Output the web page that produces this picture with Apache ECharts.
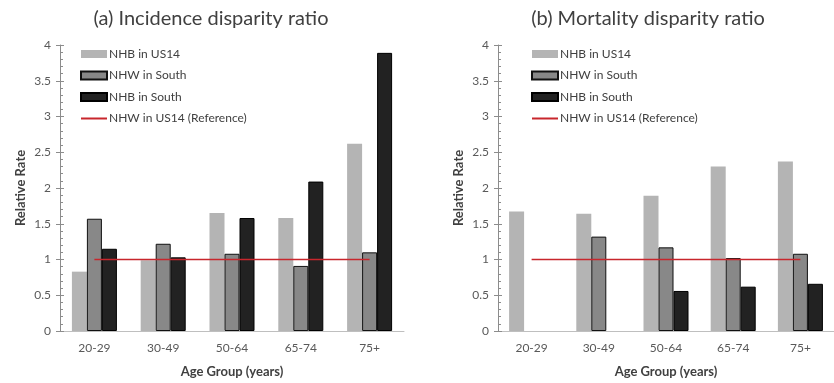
<!DOCTYPE html>
<html>
<head>
<meta charset="utf-8">
<script src="https://cdn.jsdelivr.net/npm/echarts@6/dist/echarts.min.js"></script>
<style>
  html, body { margin: 0; padding: 0; background: #fff; }
  #chart { width: 834px; height: 383px; }
</style>
</head>
<body>
<div id="chart"></div>
<script>
// Age groups shared by both panels
const ageGroups = ['20-29', '30-49', '50-64', '65-74', '75+'];
const yTicks = [0, 0.5, 1, 1.5, 2, 2.5, 3, 3.5, 4];

// (a) Incidence disparity ratio
const incNHBUS14 = [0.83, 0.99, 1.65, 1.58, 2.62];
const incNHWSouth = [1.57, 1.22, 1.08, 0.91, 1.10];
const incNHBSouth = [1.15, 1.03, 1.58, 2.09, 3.89];

// (b) Mortality disparity ratio
const morNHBUS14 = [1.67, 1.64, 1.89, 2.30, 2.37];
const morNHWSouth = [null, 1.32, 1.17, 1.02, 1.08];
const morNHBSouth = [null, null, 0.56, 0.62, 0.66];

// Reference level (NHW in US14)
const reference = [1, 1, 1, 1, 1];

const seriesNames = ['NHB in US14', 'NHW in South', 'NHB in South', 'NHW in US14 (Reference)'];

const FONT = 'Lato';
const textDark = '#404040';
const textAxis = '#595959';
const axisGray = '#8c8c8c';

const grids = [
  { left: 60, right: 430, top: 45, bottom: 50 },
  { left: 498, right: -6, top: 45, bottom: 50 }
];

function xAxisFor(i) {
  return {
    type: 'category', gridIndex: i, data: ageGroups,
    axisLine: { lineStyle: { color: '#bfbfbf', width: 1 } },
    axisTick: { show: false },
    axisLabel: { color: textAxis, fontFamily: FONT, fontSize: 12, margin: 11 },
    name: 'Age Group (years)', nameLocation: 'middle', nameGap: 34,
    nameTextStyle: { color: textDark, fontFamily: FONT, fontSize: 13, fontWeight: 'bold' }
  };
}

function yAxesFor(i) {
  return [
    {
      type: 'value', gridIndex: i, min: 0, max: 4, interval: 0.5,
      axisLine: { show: true, lineStyle: { color: axisGray } },
      axisTick: { show: true, inside: true, length: 4, lineStyle: { color: axisGray } },
      minorTick: { show: true, splitNumber: 5, length: 3, lineStyle: { color: axisGray } },
      splitLine: { show: false },
      axisLabel: { color: textAxis, fontFamily: FONT, fontSize: 12, margin: 9,
        formatter: v => (yTicks.indexOf(v) >= 0 ? String(v) : '') },
      name: 'Relative Rate', nameLocation: 'middle', nameGap: 33,
      nameTextStyle: { color: textDark, fontFamily: FONT, fontSize: 13, fontWeight: 'bold' }
    },
    {
      // outer half of the crossing major ticks
      type: 'value', gridIndex: i, min: 0, max: 4, interval: 0.5, position: 'left',
      axisLine: { show: false },
      axisTick: { show: true, inside: false, length: 4, lineStyle: { color: axisGray } },
      splitLine: { show: false },
      axisLabel: { show: false }
    }
  ];
}

function barSeries(name, data, i, style) {
  return {
    name, type: 'bar', data, xAxisIndex: i, yAxisIndex: i * 2,
    barWidth: 15, barGap: '0%', itemStyle: style, emphasis: { disabled: true }
  };
}

function panelSeries(i, a, b, c) {
  return [
    barSeries(seriesNames[0], a, i, { color: '#b4b4b4' }),
    barSeries(seriesNames[1], b, i, { color: '#888888', borderColor: '#111', borderWidth: 1 }),
    barSeries(seriesNames[2], c, i, { color: '#222222', borderColor: '#000', borderWidth: 1 }),
    {
      name: seriesNames[3], type: 'line', data: reference, xAxisIndex: i, yAxisIndex: i * 2,
      symbol: 'none', lineStyle: { color: '#c8262c', width: 1.5 }, itemStyle: { color: '#c8262c' },
      z: 5
    }
  ];
}

function legendFor(left) {
  return {
    orient: 'vertical', left, top: 43, itemWidth: 26, itemHeight: 8, itemGap: 9.5,
    data: [
      { name: seriesNames[0], icon: 'rect' },
      { name: seriesNames[1], icon: 'rect' },
      { name: seriesNames[2], icon: 'rect' },
      { name: seriesNames[3], itemStyle: { opacity: 0 } }
    ],
    selectedMode: false,
    textStyle: { color: textDark, fontFamily: FONT, fontSize: 12, padding: [0, 0, 0, -3] }
  };
}

const chart = echarts.init(document.getElementById('chart'), null, { renderer: 'canvas' });
chart.setOption({
  animation: false,
  backgroundColor: '#fff',
  title: [
    { text: '(a) Incidence disparity ratio', left: 206, top: 4, textAlign: 'center',
      textStyle: { color: textDark, fontFamily: FONT, fontSize: 20, fontWeight: 'normal' } },
    { text: '(b) Mortality disparity ratio', left: 643, top: 4, textAlign: 'center',
      textStyle: { color: textDark, fontFamily: FONT, fontSize: 20, fontWeight: 'normal' } }
  ],
  legend: [legendFor(75), legendFor(526)],
  grid: grids,
  xAxis: [xAxisFor(0), xAxisFor(1)],
  yAxis: [...yAxesFor(0), ...yAxesFor(1)],
  series: [
    ...panelSeries(0, incNHBUS14, incNHWSouth, incNHBSouth),
    ...panelSeries(1, morNHBUS14, morNHWSouth, morNHBSouth)
  ]
});
</script>
</body>
</html>
